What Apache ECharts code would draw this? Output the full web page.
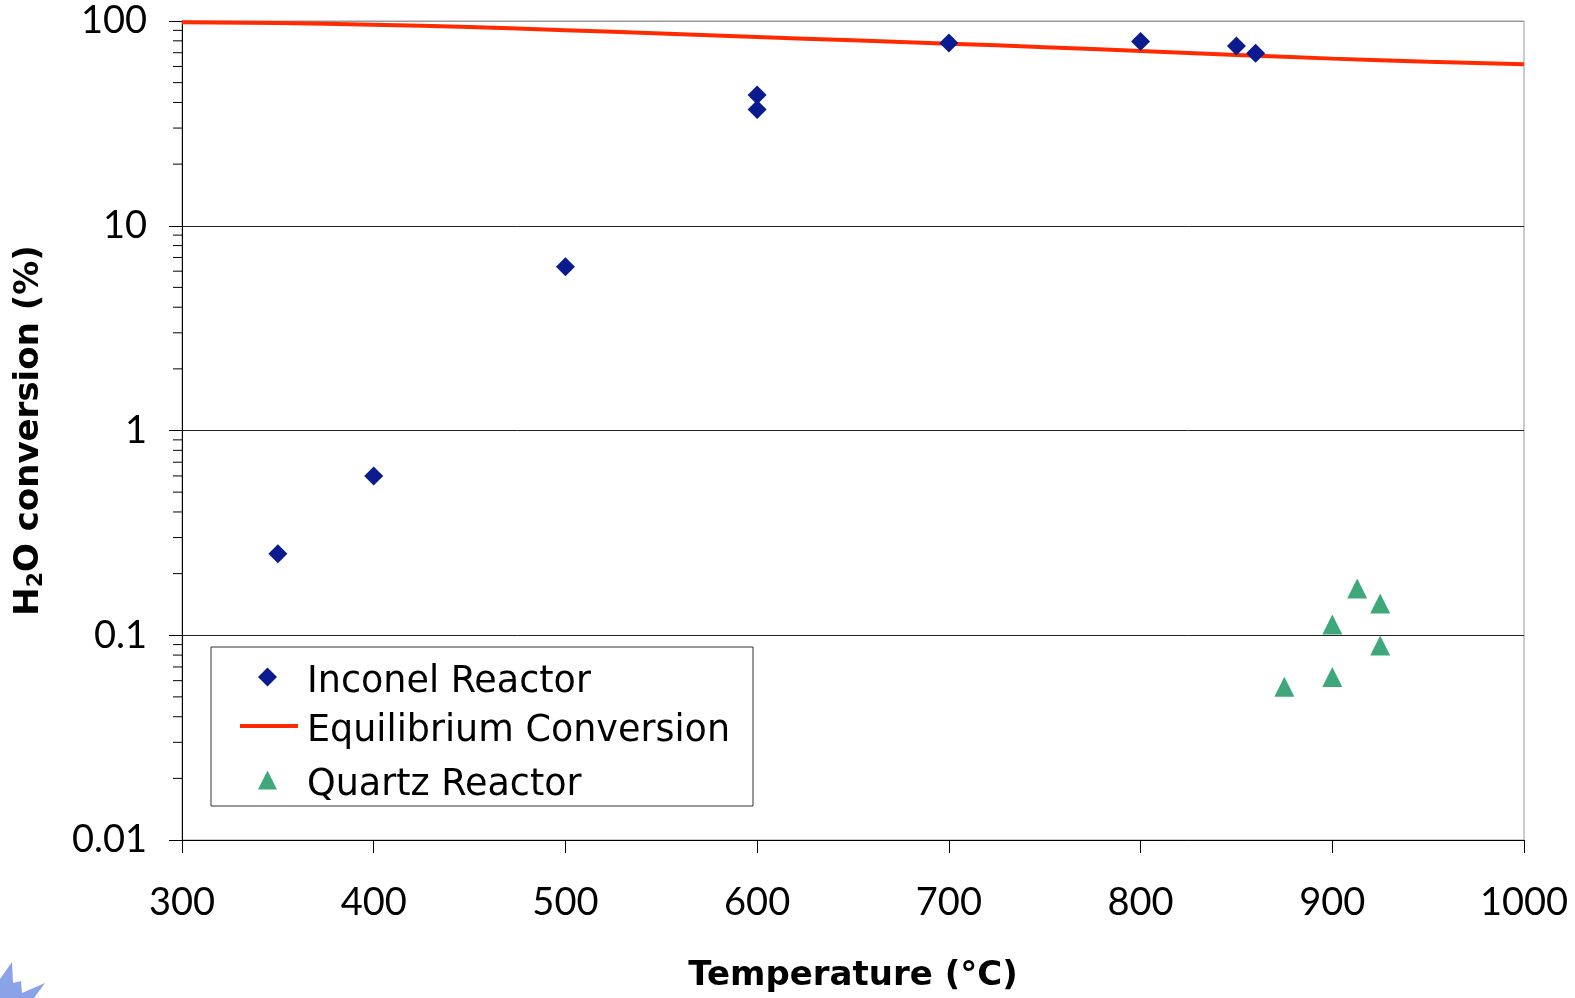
<!DOCTYPE html>
<html>
<head>
<meta charset="utf-8">
<title>H2O conversion</title>
<script src="https://cdn.jsdelivr.net/npm/echarts@6/dist/echarts.min.js"></script>
<style>
  html, body { margin: 0; padding: 0; background: #fff; }
  #chart { width: 1575px; height: 998px; }
</style>
</head>
<body>
<div id="chart"></div>
<script>
// Inconel reactor points [temperature, conversion %]
const inconelTemps = [350, 400, 500, 600, 600, 700, 800, 850, 860];
const inconelValues = [0.25, 0.6, 6.3, 43.5, 37, 78, 79.5, 75.5, 69.5];

// Quartz reactor points
const quartzTemps = [875, 900, 900, 913, 925, 925];
const quartzValues = [0.056, 0.0625, 0.113, 0.169, 0.143, 0.089];

// equilibrium conversion curve
const eqTemps = [300, 350, 400, 450, 500, 550, 600, 650, 700, 750, 800, 850, 900, 950, 1000];
const eqValues = [98.5, 97.8, 96, 93.5, 90.2, 86.8, 83.5, 80.5, 77.5, 74.5, 71.3, 68.3, 65.5, 63.2, 61.5];

// minor ticks of the log axis (2..9 in every decade)
const minorTicks = [];
[0.01, 0.1, 1, 10].forEach(function (d) {
  for (let k = 2; k <= 9; k++) minorTicks.push(+(d * k).toPrecision(3));
});

const tickFont = "Lato, 'DejaVu Sans', sans-serif";
const textFont = "'DejaVu Sans', sans-serif";

// legend text: an empty short first line pushes the name a bit below the icon centre
function legendTextStyle(padLeft) {
  return {
    padding: [0, 0, 0, padLeft],
    rich: {
      s: { fontSize: 8, lineHeight: 11 },
      t: { fontFamily: textFont, fontSize: 36.5, color: "#000", lineHeight: 40 }
    }
  };
}
function legendFormatter(name) {
  return "{s| }\n{t|" + name + "}";
}

const chart = echarts.init(document.getElementById("chart"));

const option = {
  animation: false,
  backgroundColor: "#fff",
  grid: {
    left: 182, right: 51, top: 21, bottom: 157,
    show: true, borderColor: "#999", borderWidth: 1, backgroundColor: "transparent"
  },
  // one legend per entry so each icon keeps its own size
  legend: [
    {
      data: [{ name: "Inconel Reactor", icon: "diamond" }],
      left: 258, top: 653, padding: 0,
      itemWidth: 19, itemHeight: 19, selectedMode: false,
      formatter: legendFormatter,
      textStyle: legendTextStyle(25)
    },
    {
      data: [{ name: "Equilibrium Conversion", icon: "rect" }],
      left: 240, top: 702, padding: 0,
      itemWidth: 58, itemHeight: 4, selectedMode: false,
      formatter: legendFormatter,
      textStyle: legendTextStyle(4)
    },
    {
      data: [{ name: "Quartz Reactor", icon: "triangle" }],
      left: 258, top: 756, padding: 0,
      itemWidth: 19, itemHeight: 19, selectedMode: false,
      formatter: legendFormatter,
      textStyle: legendTextStyle(25)
    }
  ],
  xAxis: {
    type: "value",
    min: 300, max: 1000, interval: 100,
    name: "Temperature (°C)",
    nameLocation: "middle",
    nameGap: 119,
    nameTextStyle: { fontFamily: textFont, fontSize: 34, fontWeight: "bold", color: "#000" },
    axisLine: { lineStyle: { color: "#000", width: 1 } },
    axisTick: { show: true, length: 13, lineStyle: { color: "#000" } },
    axisLabel: {
      fontFamily: tickFont, fontSize: 38, color: "#000", margin: 44,
      formatter: function (v) { return String(v); }
    },
    splitLine: { show: false }
  },
  yAxis: {
    type: "log",
    logBase: 10,
    min: 0.01, max: 100,
    name: "{b|H}{s|2}{b|O conversion (%)}",
    nameLocation: "middle",
    nameGap: 135,
    nameRotate: 90,
    nameTextStyle: {
      rich: {
        b: { fontFamily: textFont, fontSize: 34, fontWeight: "bold", color: "#000" },
        s: { fontFamily: textFont, fontSize: 22, fontWeight: "bold", color: "#000", padding: [14, 0, 0, 0] }
      }
    },
    axisLine: { show: true, lineStyle: { color: "#000", width: 1 } },
    axisTick: { show: true, length: 13, lineStyle: { color: "#000" } },
    axisLabel: {
      fontFamily: tickFont, fontSize: 38, color: "#000", margin: 35,
      formatter: function (v) { return String(v); }
    },
    splitLine: { show: true, lineStyle: { color: ["#222", "#222", "#222", "#222", "#999"], width: 1 } }
  },
  graphic: [
    {
      type: "rect",
      shape: { x: 211, y: 647, width: 542, height: 159 },
      style: { fill: "transparent", stroke: "#333", lineWidth: 1 },
      z: 3
    },
    {
      type: "polygon",
      shape: { points: [[0, 979], [12, 962], [13, 983], [21, 981], [22, 993], [45, 983], [34, 998], [0, 998]] },
      style: { fill: "#8aa3e8" }
    }
  ],
  series: [
    {
      name: "Minor ticks",
      type: "custom",
      silent: true,
      data: minorTicks.map(function (v) { return [300, v]; }),
      renderItem: function (params, api) {
        const p = api.coord([api.value(0), api.value(1)]);
        return {
          type: "line",
          shape: { x1: p[0] - 9, y1: p[1], x2: p[0], y2: p[1] },
          style: { stroke: "#000", lineWidth: 1 }
        };
      },
      z: 1
    },
    {
      name: "Equilibrium Conversion",
      type: "line",
      data: eqTemps.map(function (t, i) { return [t, eqValues[i]]; }),
      smooth: true,
      symbol: "none",
      lineStyle: { color: "#ff2a00", width: 4 },
      itemStyle: { color: "#ff2a00" },
      z: 3
    },
    {
      name: "Inconel Reactor",
      type: "scatter",
      data: inconelTemps.map(function (t, i) { return [t, inconelValues[i]]; }),
      symbol: "diamond",
      symbolSize: 19,
      itemStyle: { color: "#0a1a8f", opacity: 1 },
      z: 4
    },
    {
      name: "Quartz Reactor",
      type: "scatter",
      data: quartzTemps.map(function (t, i) { return [t, quartzValues[i]]; }),
      symbol: "triangle",
      symbolSize: 20,
      itemStyle: { color: "#3ea87b", opacity: 1 },
      z: 4
    }
  ]
};

option && chart.setOption(option);
</script>
</body>
</html>
